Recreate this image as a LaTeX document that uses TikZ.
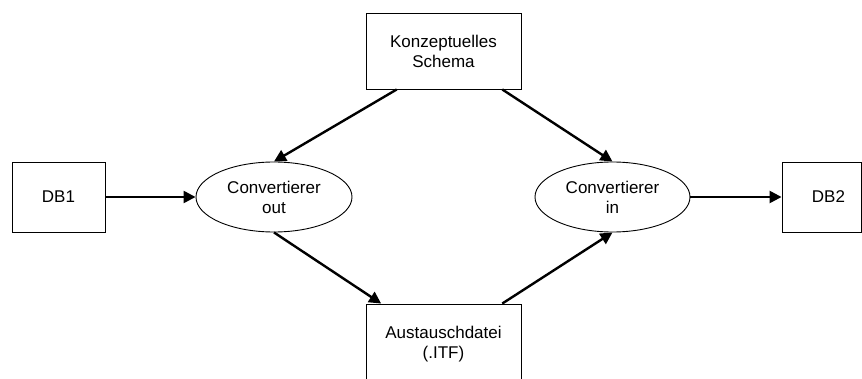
\documentclass[tikz,border=0pt]{standalone}
\usepackage{fontspec}
\setmainfont{Liberation Sans}
\usetikzlibrary{shapes.geometric,arrows.meta,calc}

\tikzset{
  box/.style={draw, line width=0.9pt, rectangle, inner sep=0pt, align=center,
              font=\fontsize{17}{20}\selectfont},
  conv/.style={draw, line width=0.9pt, ellipse, inner sep=0pt, align=center,
               minimum width=156pt, minimum height=70pt,
               font=\fontsize{17}{20}\selectfont},
  flow/.style={line width=2.4pt, -{Triangle[length=12pt,width=12pt]}}
}

\begin{document}
\begin{tikzpicture}[x=1pt,y=1pt]
  \useasboundingbox (0,0) rectangle (862,378);

  % data stores and converters
  \node[box, minimum width=93pt, minimum height=70pt] (db1) at (58.5,181) {DB1};
  \node[box, minimum width=79pt, minimum height=70pt] (db2) at (821.5,181) {\hspace*{14pt}DB2};
  \node[box, minimum width=155pt, minimum height=76pt] (schema) at (443.5,327)
        {Konzeptuelles\\Schema};
  \node[box, minimum width=155pt, minimum height=80pt] (itf) at (443.5,34)
        {Austauschdatei\\(.ITF)};
  \node[conv] (out) at (274,181) {Convertierer\\out};
  \node[conv, minimum width=155pt] (in) at (612.5,181) {Convertierer\\in};

  % data flow
  \draw[flow] (db1.east) -- (out.west);
  \draw[flow] (in.east) -- (db2.west);
  \draw[flow] ($(schema.south west)!0.2!(schema.south east)$) -- (out.north);
  \draw[flow] ($(schema.south west)!0.877!(schema.south east)$) -- (in.north);
  \draw[flow] (out.south) -- ($(itf.north west)!0.1!(itf.north east)$);
  \draw[flow] ($(itf.north west)!0.877!(itf.north east)$) -- (in.south);
\end{tikzpicture}
\end{document}
